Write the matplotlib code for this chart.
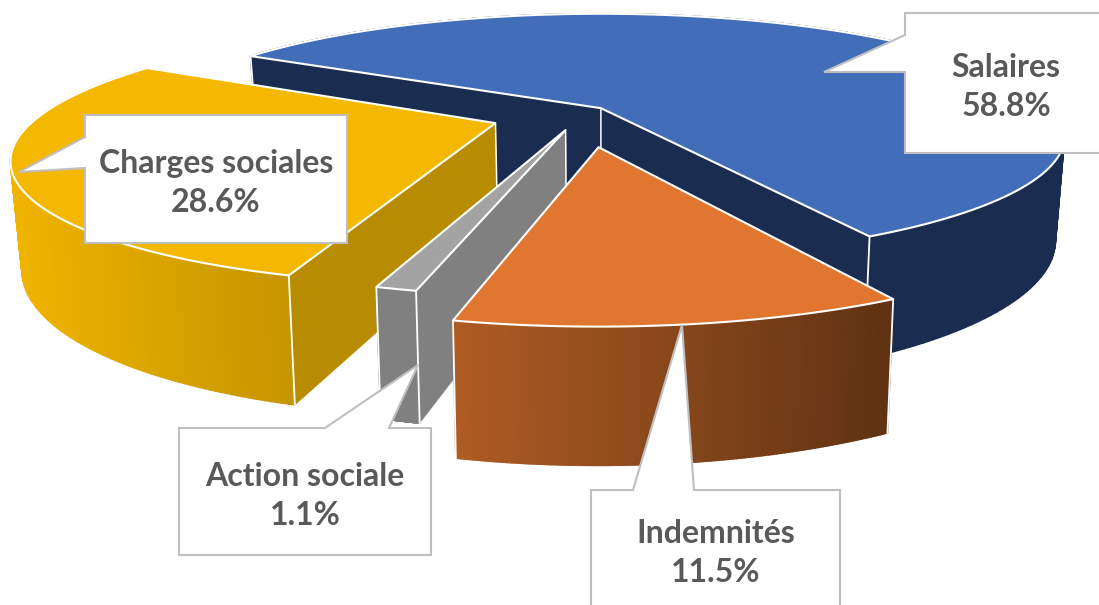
# -*- coding: utf-8 -*-
import numpy as np
import matplotlib
matplotlib.use('Agg')
import matplotlib.pyplot as plt
from matplotlib.colors import to_rgb
from matplotlib.patches import Polygon

# data
labels = ['Salaires', 'Indemnités', 'Action sociale', 'Charges sociales']
values = [58.8, 11.5, 1.1, 28.6]
start_angle = -60.0

# how far each slice is pulled out, in pie-plane units (x right, y away)
explode_x = [0.002, -0.003, -0.073, -0.225]
explode_y = [-0.010, -0.322, -0.190, -0.135]

top_colors = ['#416DB9', '#E0762F', '#A3A3A3', '#F4B800']
radial_colors = ['#1A2C50', '#7A4018', '#808080', '#B88C00']
wall_left = ['#1A2C50', '#B05C24', '#808080', '#F0B400']
wall_right = ['#1A2C50', '#5F3212', '#808080', '#C69600']
draw_order = [0, 3, 2, 1]
# which cut faces can be seen from the front (0 = first edge, -1 = last edge)
open_faces = [(0, -1), (), (0,), (0,)]

# callouts: box left/right/top/bottom, pointer tip, the two points where it leaves the box
boxes = {
    'Salaires': dict(box=(905, 1120, 13, 153), tip=(824, 72), side='left', a=35, b=72, text=(1006, 87)),
    'Indemnités': dict(box=(591, 840, 490, 640), tip=(682, 325), side='top', a=633, b=694, text=(716, 553)),
    'Action sociale': dict(box=(179, 431, 428, 555), tip=(418, 365), side='top', a=325, b=389, text=(305, 496)),
    'Charges sociales': dict(box=(85, 347, 115, 243), tip=(19, 172), side='left', a=137, b=168, text=(216, 183)),
}

# perspective of the pie
CX, CY = 600.0, 107.0
RX, RY = 450.0, 91.0
PERSP = 0.23
DEPTH = 103.0


def project(u, v, z=0.0):
    w = (1 + PERSP * v) * (1 + 0.02 * z)
    return CX + RX * u / w, (CY - RY * v + DEPTH * z) / w


def mix(c1, c2, t):
    c1, c2 = np.array(to_rgb(c1)), np.array(to_rgb(c2))
    return tuple(c1 + (c2 - c1) * t)


fig = plt.figure(figsize=(10.99, 6.05), dpi=100)
ax = fig.add_axes([0, 0, 1, 1])
ax.set_xlim(0, 1099)
ax.set_ylim(605, 0)
ax.axis('off')

shares = np.array(values) / sum(values) * 360
ends = start_angle + np.cumsum(shares)
starts = ends - shares

z_now = 2
for i in draw_order:
    t = np.radians(np.linspace(starts[i], ends[i], 160))
    u = explode_x[i] + np.sin(t)
    v = explode_y[i] + np.cos(t)
    ou, ov = explode_x[i], explode_y[i]

    # the flat cut faces
    for k in open_faces[i]:
        pts = [project(ou, ov), project(u[k], v[k]), project(u[k], v[k], 1), project(ou, ov, 1)]
        ax.add_patch(Polygon(pts, closed=True, fc=radial_colors[i], ec=radial_colors[i], lw=0.5, zorder=z_now))
        z_now += 1

    # outer wall, back strips first, shaded along x
    xs_low = project(u, v, 1)[0]
    front = np.where(v < explode_y[i] + 0.25)[0]
    x0, x1 = xs_low[front].min(), xs_low[front].max()
    for j in sorted(range(len(t) - 1), key=lambda n: -v[n]):
        pts = [project(u[j], v[j]), project(u[j + 1], v[j + 1]),
               project(u[j + 1], v[j + 1], 1), project(u[j], v[j], 1)]
        f = np.clip((xs_low[j] - x0) / (x1 - x0), 0, 1)
        c = mix(wall_left[i], wall_right[i], f)
        ax.add_patch(Polygon(pts, closed=True, fc=c, ec=c, lw=1.2, zorder=z_now))
    z_now += 1

    # corner lines between the walls
    for k in (0, -1):
        a = project(u[k], v[k])
        b = project(u[k], v[k], 1)
        ax.plot([a[0], b[0]], [a[1], b[1]], color='white', lw=1.3, zorder=z_now)
    a = project(ou, ov)
    b = project(ou, ov, 1)
    if open_faces[i]:
        ax.plot([a[0], b[0]], [a[1], b[1]], color='white', lw=1.1, zorder=z_now)
    z_now += 1

    # top of the slice
    top_x, top_y = project(np.r_[ou, u], np.r_[ov, v])
    ax.add_patch(Polygon(np.c_[top_x, top_y], closed=True, fc=top_colors[i], ec='white', lw=1.5,
                         joinstyle='miter', zorder=z_now))
    z_now += 1

# callouts with the labels
for name, value in zip(labels, values):
    c = boxes[name]
    l, r, t_, b_ = c['box']
    if c['side'] == 'left':
        pts = [(l, t_), (r, t_), (r, b_), (l, b_), (l, c['b']), c['tip'], (l, c['a'])]
    else:
        pts = [(l, t_), (c['a'], t_), c['tip'], (c['b'], t_), (r, t_), (r, b_), (l, b_)]
    ax.add_patch(Polygon(pts, closed=True, fc='white', ec='#BFBFBF', lw=1.5, joinstyle='miter',
                         zorder=z_now + 1))
    ax.text(c['text'][0], c['text'][1], '%s\n%.1f%%' % (name, value), ha='center', va='center',
            family='Lato', fontweight='bold', fontsize=23, color='#595959', linespacing=1.42,
            zorder=z_now + 2)

fig.savefig('out.png', dpi=100)
